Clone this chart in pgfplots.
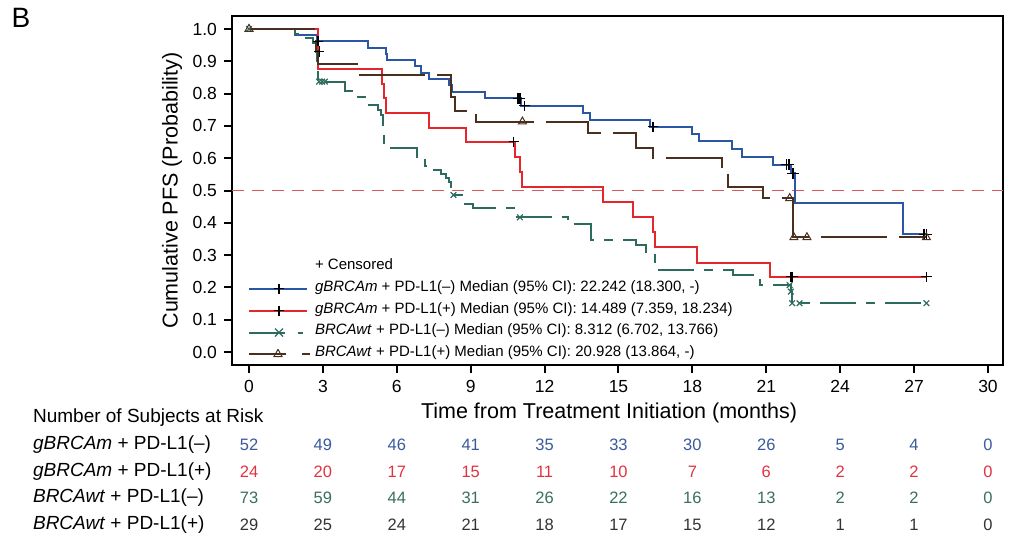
\documentclass[border=0pt]{standalone}
\usepackage{pgfplots}
\pgfplotsset{compat=1.18}
\usepackage{fontspec}
\setmainfont{Liberation Sans}
\definecolor{cblue}{HTML}{2B56A3}
\definecolor{cred}{HTML}{E5262C}
\definecolor{cgreen}{HTML}{2D6B5E}
\definecolor{cbrown}{HTML}{4A2F1E}
\definecolor{cref}{HTML}{D9575A}
\definecolor{nblue}{HTML}{3A5A9C}
\definecolor{nred}{HTML}{E03340}
\definecolor{ngreen}{HTML}{3A6E60}
\definecolor{nblack}{HTML}{333333}
\tikzset{
  bluel/.style={cblue, line width=1pt},
  redl/.style={cred, line width=1pt},
  greenl/.style={cgreen, line width=1pt, dash pattern=on 18pt off 5pt on 4.5pt off 5pt},
  brownl/.style={cbrown, line width=1pt, dash pattern=on 33pt off 6pt},
}
\begin{document}
\begin{tikzpicture}
\path[use as bounding box] (-116pt,-93.5pt) rectangle (394pt,182.5pt);
\begin{axis}[
  at={(0,0)}, anchor=south west,
  scale only axis, width=385.5pt, height=174.5pt,
  xmin=-0.69, xmax=30.61, ymin=-0.0402, ymax=1.0402,
  xtick={0,3,6,9,12,15,18,21,24,27,30},
  ytick={0,0.1,0.2,0.3,0.4,0.5,0.6,0.7,0.8,0.9,1.0},
  axis line style={line width=1pt},
  tick style={line width=1pt, black},
  major tick length=4pt, tick align=outside,
  xtick pos=bottom, ytick pos=left,
  ticklabel style={font=\fontsize{8.75}{10}\selectfont},
  /pgf/number format/assume math mode=true,
  yticklabel style={/pgf/number format/.cd, fixed, fixed zerofill, precision=1},
  xlabel={Time from Treatment Initiation (months)},
  ylabel={Cumulative PFS (Probability)},
  label style={font=\fontsize{10.75}{12}\selectfont},
  xlabel style={at={(axis description cs:0.489,-0.1375)}, anchor=center},
  ylabel style={at={(axis description cs:-0.0778,0.5)}, anchor=center},
  legend style={at={(axis cs:-0.04,0.288)}, anchor=north west, draw=none, fill=none,
    inner sep=0pt, outer sep=0pt, font=\fontsize{7.5}{9}\selectfont, row sep=3.75pt,
    nodes={inner sep=0pt},
    /tikz/every odd column/.append style={column sep=0.5pt}},
  legend cell align=left,
]
\addlegendimage{empty legend}
\addlegendentry{+ Censored}
% reference line at 0.5
\addplot[cref, line width=0.75pt, dash pattern=on 6pt off 4pt, forget plot] coordinates {(-0.69,0.5) (30.61,0.5)};

% gBRCAm + PD-L1(-)
\addplot[bluel, const plot,
  legend image code/.code={\draw[cblue,line width=1pt] (0pt,-0.8pt)--(29pt,-0.8pt); \draw[black,line width=0.6pt] (15pt,-3.4pt)--(15pt,1.8pt) (12.4pt,-0.8pt)--(17.6pt,-0.8pt); \path (32pt,0pt);}]
coordinates {
(0,1) (1.87,0.981) (2.75,0.962) (4.83,0.942) (5.55,0.923) (5.6,0.904) (6.74,0.885)
(7.0,0.865) (7.3,0.846) (8.13,0.827) (8.26,0.804) (9.58,0.785) (11.05,0.762)
(13.57,0.741) (13.85,0.718) (16.28,0.697) (17.97,0.675) (18.27,0.652) (19.6,0.627)
(20.0,0.603) (21.26,0.580) (22.0,0.553) (22.15,0.460) (26.57,0.365) (27.5,0.365)
};
\addlegendentry{\textit{gBRCAm} + PD-L1(–) Median (95\% CI): 22.242 (18.300, -)}

% gBRCAm + PD-L1(+)
\addplot[redl, const plot,
  legend image code/.code={\draw[cred,line width=1pt] (0pt,-0.8pt)--(29pt,-0.8pt); \draw[black,line width=0.6pt] (15pt,-3.4pt)--(15pt,1.8pt) (12.4pt,-0.8pt)--(17.6pt,-0.8pt); \path (32pt,0pt);}]
coordinates {
(0,1) (2.81,0.875) (5.38,0.829) (5.5,0.786) (5.58,0.740) (7.32,0.694) (8.82,0.651)
(10.8,0.605) (11.0,0.558) (11.07,0.510) (14.38,0.463) (15.57,0.419) (16.41,0.372)
(16.48,0.326) (18.17,0.277) (21.15,0.233) (27.5,0.233)
};
\addlegendentry{\textit{gBRCAm} + PD-L1(+) Median (95\% CI): 14.489 (7.359, 18.234)}

% BRCAwt + PD-L1(-)
\addplot[greenl, const plot,
  legend image code/.code={\draw[cgreen,line width=1pt] (0pt,-0.8pt)--(21pt,-0.8pt) (24.3pt,-0.8pt)--(26.8pt,-0.8pt); \draw[cgreen,line width=0.6pt] (13pt,-2.8pt)--(17pt,1.2pt) (13pt,1.2pt)--(17pt,-2.8pt); \path (32pt,0pt);}]
coordinates {
(0,1) (1.87,0.986) (1.97,0.972) (2.6,0.958) (2.7,0.93) (2.75,0.88) (2.82,0.837)
(3.9,0.807) (4.43,0.79) (4.77,0.765) (5.25,0.75) (5.35,0.734) (5.45,0.69) (5.5,0.632)
(6.8,0.603) (7.15,0.576) (7.42,0.562) (7.8,0.551) (8.0,0.539) (8.13,0.527) (8.22,0.486)
(8.77,0.458) (9.1,0.445) (10.77,0.417) (12.95,0.395) (13.9,0.347) (15.7,0.331)
(16.1,0.305) (16.48,0.28) (16.55,0.254) (19.65,0.238) (20.75,0.207) (22.0,0.187)
(22.05,0.151) (27.5,0.151)
};
\addlegendentry{\textit{BRCAwt} + PD-L1(–) Median (95\% CI): 8.312 (6.702, 13.766)}

% BRCAwt + PD-L1(+)
\addplot[brownl, const plot,
  legend image code/.code={\draw[cbrown,line width=1pt] (0pt,-0.8pt)--(18.5pt,-0.8pt) (26.5pt,-0.8pt)--(30.5pt,-0.8pt); \draw[cbrown,line width=0.5pt] (14.5pt,1.5pt)--(12.5pt,-2.1pt)--(16.5pt,-2.1pt)--cycle; \path (32pt,0pt);}]
coordinates {
(0,1) (2.65,0.966) (2.7,0.931) (2.8,0.893) (4.5,0.858) (8.22,0.79) (8.36,0.747)
(9.2,0.713) (13.76,0.677) (15.72,0.632) (16.4,0.600) (19.22,0.574) (19.4,0.555)
(19.45,0.512) (20.88,0.476) (22.08,0.355) (27.5,0.355)
};
\addlegendentry{\textit{BRCAwt} + PD-L1(+) Median (95\% CI): 20.928 (13.864, -)}

% censor marks
\addplot[only marks, mark=+, mark size=2.6pt, black, line width=0.6pt, forget plot] coordinates {
(2.8,0.962) (10.92,0.785) (11.0,0.785) (11.18,0.762) (16.4,0.697) (21.82,0.580) (21.92,0.580)
(22.05,0.553) (22.1,0.553) (27.4,0.365) (27.5,0.365)
(2.85,0.93) (10.75,0.651) (22.0,0.233) (22.06,0.233) (27.5,0.233)
};
\addplot[only marks, mark=x, mark size=2pt, cgreen, line width=0.6pt, forget plot] coordinates {
(0,1) (2.85,0.837) (2.97,0.837) (3.08,0.837) (8.3,0.486) (11.0,0.417) (21.95,0.207)
(22.0,0.187) (22.05,0.151) (22.35,0.151) (27.5,0.151)
};
\addplot[only marks, mark=triangle, mark size=2.3pt, cbrown, line width=0.5pt, forget plot] coordinates {
(0,1) (11.1,0.713) (21.95,0.476) (22.12,0.355) (22.65,0.355) (27.5,0.355)
};
\end{axis}

\node[font=\fontsize{14}{16}\selectfont] at (-105.5pt,173.75pt) {B};

\begin{scope}[font=\fontsize{9.5}{11}\selectfont]
\node[anchor=west, inner sep=0pt] at (-99.65pt,-26.5pt) {Number of Subjects at Risk};
\node[anchor=west, inner sep=0pt] at (-99.65pt,-40pt) {\textit{gBRCAm} + PD-L1(–)};
\node[anchor=west, inner sep=0pt] at (-99.65pt,-53.5pt) {\textit{gBRCAm} + PD-L1(+)};
\node[anchor=west, inner sep=0pt] at (-99.65pt,-66.5pt) {\textit{BRCAwt} + PD-L1(–)};
\node[anchor=west, inner sep=0pt] at (-99.65pt,-80pt) {\textit{BRCAwt} + PD-L1(+)};
\end{scope}
\begin{scope}[every node/.style={font=\fontsize{8.25}{10}\selectfont, inner sep=0pt}]
\foreach \v [count=\i from 0] in {52,49,46,41,35,33,30,26,5,4,0}
  \node[nblue] at ({8.5pt+36.948pt*\i},-40pt) {\v};
\foreach \v [count=\i from 0] in {24,20,17,15,11,10,7,6,2,2,0}
  \node[nred] at ({8.5pt+36.948pt*\i},-53.5pt) {\v};
\foreach \v [count=\i from 0] in {73,59,44,31,26,22,16,13,2,2,0}
  \node[ngreen] at ({8.5pt+36.948pt*\i},-66.5pt) {\v};
\foreach \v [count=\i from 0] in {29,25,24,21,18,17,15,12,1,1,0}
  \node[nblack] at ({8.5pt+36.948pt*\i},-80pt) {\v};
\end{scope}
\end{tikzpicture}
\end{document}
